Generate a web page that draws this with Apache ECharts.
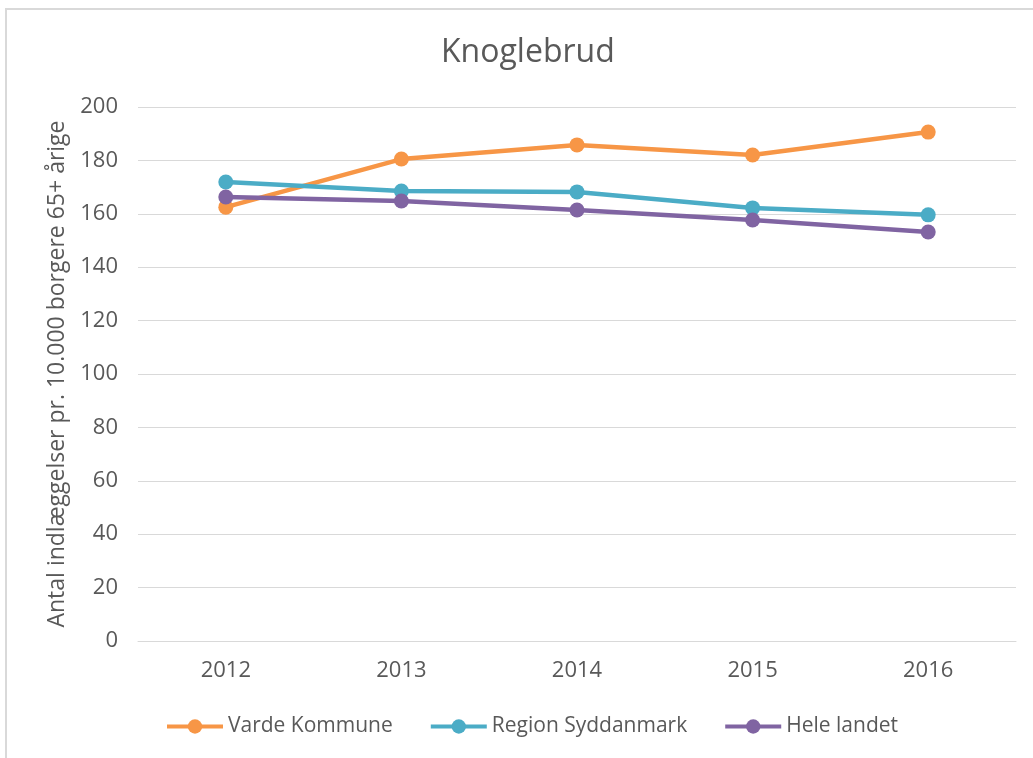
<!DOCTYPE html>
<html>
<head>
<meta charset="utf-8">
<script src="https://cdn.jsdelivr.net/npm/echarts@6/dist/echarts.min.js"></script>
<style>
html,body{margin:0;padding:0;width:1033px;height:758px;overflow:hidden;background:#fff;}
#frame{position:absolute;left:5px;top:8px;width:2000px;height:2000px;border:2px solid #d9d9d9;box-sizing:border-box;}
#chart{position:absolute;left:0;top:0;width:1033px;height:758px;}
</style>
</head>
<body>
<div id="frame"></div>
<div id="chart"></div>
<script>
const titleText = "Knoglebrud";
const yAxisName = "Antal indlæggelser pr. 10.000 borgere 65+ årige";
const categories = ["2012", "2013", "2014", "2015", "2016"];
const seriesNames = ["Varde Kommune", "Region Syddanmark", "Hele landet"];
const vardeValues = [162.5, 180.5, 185.8, 182.0, 190.6];
const regionValues = [171.9, 168.5, 168.2, 162.2, 159.6];
const heleValues = [166.3, 164.8, 161.4, 157.7, 153.2];
const colors = ["#F79646", "#4BACC6", "#8064A2"];

const font = "'Open Sans', sans-serif";
const textColor = "#595959";
const allValues = [vardeValues, regionValues, heleValues];

const chart = echarts.init(document.getElementById('chart'), null, {renderer: 'canvas'});
chart.setOption({
  animation: false,
  backgroundColor: 'transparent',
  title: {
    text: titleText,
    left: 436,
    top: 32,
    textStyle: {fontFamily: font, fontSize: 32, fontWeight: 'normal', color: textColor}
  },
  legend: {
    data: seriesNames.map((n, i) => ({name: n, lineStyle: {width: 4, color: colors[i]}})),
    bottom: 16,
    left: 160,
    itemWidth: 56,
    itemHeight: 18,
    itemGap: 36,
    textStyle: {fontFamily: font, fontSize: 21, color: textColor}
  },
  grid: {left: 138, right: 17, top: 107, bottom: 117, containLabel: false},
  xAxis: {
    type: 'category',
    data: categories,
    boundaryGap: true,
    axisLine: {show: true, lineStyle: {color: '#d9d9d9', width: 1}},
    axisTick: {show: false},
    axisLabel: {fontFamily: font, fontSize: 22, color: textColor, margin: 19}
  },
  yAxis: {
    type: 'value',
    min: 0,
    max: 200,
    interval: 20,
    name: yAxisName,
    nameLocation: 'middle',
    nameGap: 68,
    nameTextStyle: {fontFamily: font, fontSize: 23, color: textColor},
    axisLine: {show: false},
    axisTick: {show: false},
    axisLabel: {fontFamily: font, fontSize: 22, color: textColor, margin: 20},
    splitLine: {show: true, lineStyle: {color: '#d9d9d9', width: 1}}
  },
  series: seriesNames.map((name, i) => ({
    name: name,
    type: 'line',
    data: allValues[i],
    color: colors[i],
    symbol: 'circle',
    symbolSize: 15,
    lineStyle: {width: 4.5, color: colors[i]},
    itemStyle: {color: colors[i]}
  }))
});
</script>
</body>
</html>
